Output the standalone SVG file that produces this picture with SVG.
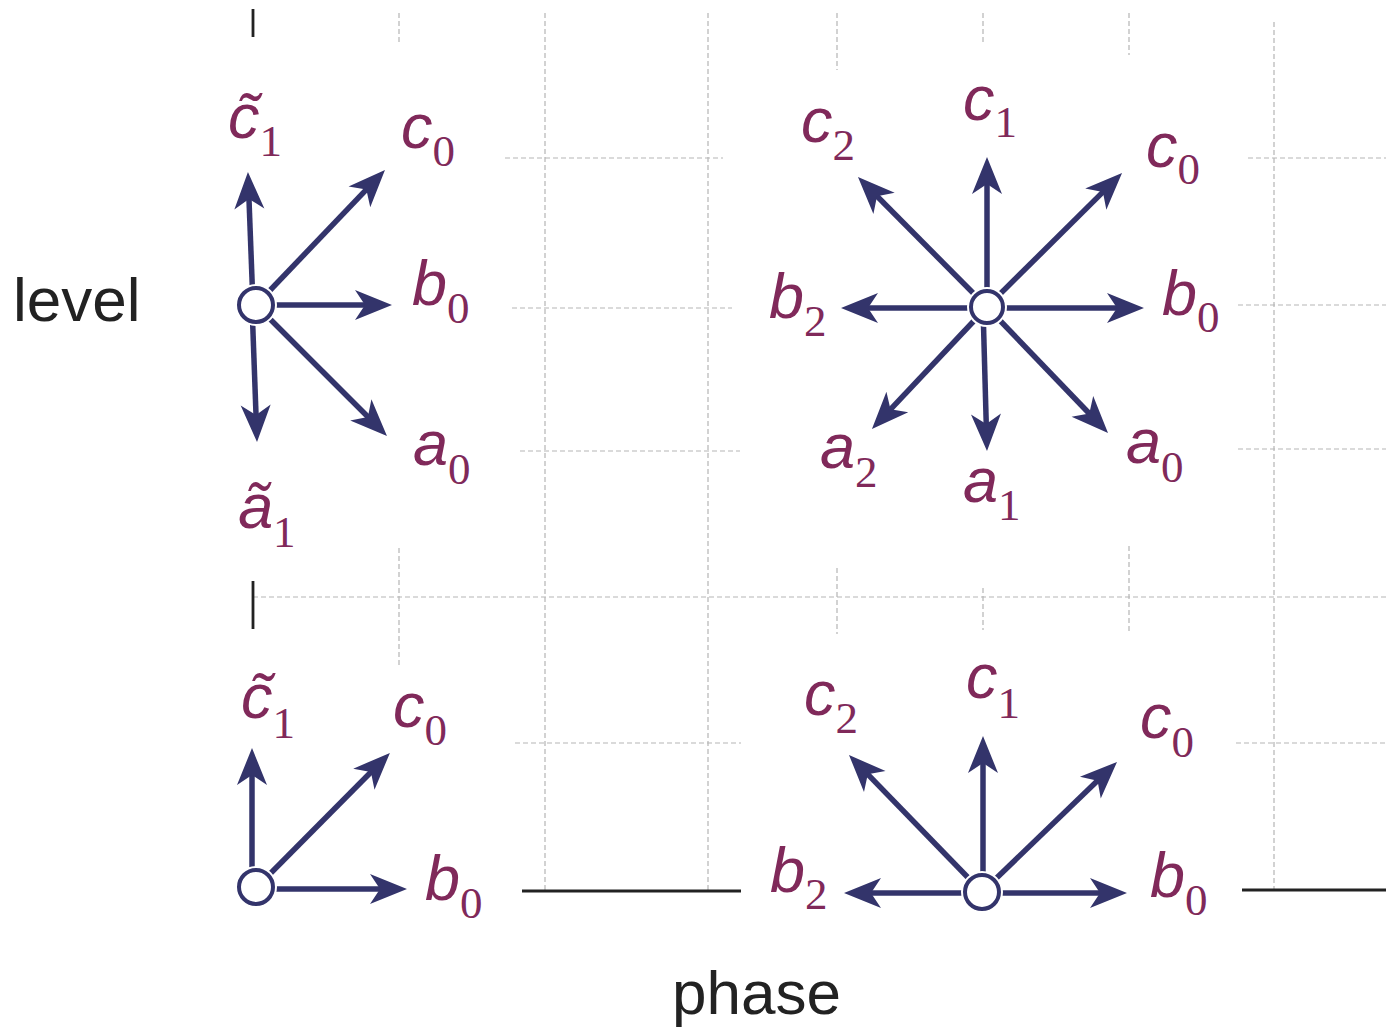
<svg xmlns="http://www.w3.org/2000/svg" width="1386" height="1030" viewBox="0 0 1386 1030">
<style>
.grid{stroke:#b5b5b5;stroke-width:1.2;stroke-dasharray:5 3;fill:none}
.axis{stroke:#222;stroke-width:2.8;fill:none}
.arr{stroke:#33346b;stroke-width:5.5;fill:none;marker-end:url(#head)}
.node{fill:#fff;stroke:#33346b;stroke-width:4}
.halo{fill:#fff;stroke:#fff;stroke-width:8}
.lbl{font-family:"Liberation Sans",Arial,sans-serif;font-style:italic;font-size:63px;fill:#80295a}
.sub{font-family:"Liberation Serif","Times New Roman",serif;font-style:normal;font-size:45px;fill:#80295a}
.ax{font-family:"Liberation Sans",Arial,sans-serif;font-size:62px;fill:#222}
</style>
<defs>
<marker id="head" markerUnits="userSpaceOnUse" viewBox="-15 -16 45 32" markerWidth="45" markerHeight="32" refX="0" refY="0" orient="auto">
<path d="M -12 -15 L 25 0 L -12 15 L -2 0 Z" fill="#33346b"/>
</marker>
</defs>
<rect width="1386" height="1030" fill="#fff"/>
<g id="grid">
<path class="grid" d="M399 13V45M399 548V668M545 13V890M708 13V890M837 13V70M837 568V634M983 13V45M983 588V630M1129 13V55M1129 546V631M1274 22V890"/>
<path class="grid" d="M505 158H723M1248 158H1386M512 308H732M1238 305H1386M520 451H740M1238 449H1386M253 597H1386M515 743H741M1236 743H1386"/>
<path class="axis" d="M253 9V37M253 581V629M522 891H741M1242 890H1386"/>
</g>
<g id="connectors">
<line class="arr" x1="253" y1="305" x2="248.9" y2="197"/>
<line class="arr" x1="256" y1="305" x2="367.7" y2="188.1"/>
<line class="arr" x1="256" y1="305" x2="367" y2="305"/>
<line class="arr" x1="256" y1="305" x2="369.3" y2="418.3"/>
<line class="arr" x1="252" y1="305" x2="256.1" y2="417"/>
<line class="arr" x1="987" y1="307" x2="987" y2="182"/>
<line class="arr" x1="987" y1="307" x2="1104.3" y2="190.6"/>
<line class="arr" x1="987" y1="308" x2="1119" y2="308"/>
<line class="arr" x1="987" y1="307" x2="1090.7" y2="415"/>
<line class="arr" x1="983" y1="307" x2="986.3" y2="426"/>
<line class="arr" x1="987" y1="307" x2="889.1" y2="410.8"/>
<line class="arr" x1="987" y1="308" x2="866" y2="308"/>
<line class="arr" x1="987" y1="307" x2="875.6" y2="194.8"/>
<line class="arr" x1="252" y1="888" x2="252" y2="773"/>
<line class="arr" x1="256" y1="888" x2="372.3" y2="770.7"/>
<line class="arr" x1="256" y1="889" x2="382" y2="889"/>
<line class="arr" x1="983" y1="892" x2="983" y2="761"/>
<line class="arr" x1="982" y1="892" x2="1099" y2="779.3"/>
<line class="arr" x1="982" y1="893" x2="1102" y2="893"/>
<line class="arr" x1="982" y1="893" x2="869" y2="893"/>
<line class="arr" x1="982" y1="892" x2="866.4" y2="772.9"/>
</g>
<g id="node-tl"><circle class="halo" cx="256" cy="305" r="17"/><circle class="node" cx="256" cy="305" r="17"/></g>
<g id="node-tr"><circle class="halo" cx="987" cy="307" r="16"/><circle class="node" cx="987" cy="307" r="16"/></g>
<g id="node-bl"><circle class="halo" cx="256" cy="887" r="17"/><circle class="node" cx="256" cy="887" r="17"/></g>
<g id="node-br"><circle class="halo" cx="982" cy="892" r="17"/><circle class="node" cx="982" cy="892" r="17"/></g>
<g id="labels-tl">
<text class="lbl" x="228" y="138">c&#x303;<tspan class="sub" dy="18">1</tspan></text>
<text class="lbl" x="401" y="148">c<tspan class="sub" dy="18">0</tspan></text>
<text class="lbl" x="412" y="305">b<tspan class="sub" dy="18">0</tspan></text>
<text class="lbl" x="413" y="465">a<tspan class="sub" dy="19">0</tspan></text>
<text class="lbl" x="238" y="528">ã<tspan class="sub" dy="19">1</tspan></text>
</g>
<g id="labels-tr">
<text class="lbl" x="963" y="120">c<tspan class="sub" dy="17">1</tspan></text>
<text class="lbl" x="801" y="142">c<tspan class="sub" dy="18">2</tspan></text>
<text class="lbl" x="1146" y="167">c<tspan class="sub" dy="17">0</tspan></text>
<text class="lbl" x="1162" y="315">b<tspan class="sub" dy="17">0</tspan></text>
<text class="lbl" x="769" y="318">b<tspan class="sub" dy="18">2</tspan></text>
<text class="lbl" x="820" y="468">a<tspan class="sub" dy="19">2</tspan></text>
<text class="lbl" x="963" y="502">a<tspan class="sub" dy="18">1</tspan></text>
<text class="lbl" x="1126" y="463">a<tspan class="sub" dy="19">0</tspan></text>
</g>
<g id="labels-bl">
<text class="lbl" x="241" y="718">c&#x303;<tspan class="sub" dy="20">1</tspan></text>
<text class="lbl" x="393" y="727">c<tspan class="sub" dy="18">0</tspan></text>
<text class="lbl" x="425" y="900">b<tspan class="sub" dy="18">0</tspan></text>
</g>
<g id="labels-br">
<text class="lbl" x="966" y="698">c<tspan class="sub" dy="20">1</tspan></text>
<text class="lbl" x="1140" y="738">c<tspan class="sub" dy="19">0</tspan></text>
<text class="lbl" x="1150" y="897">b<tspan class="sub" dy="18">0</tspan></text>
<text class="lbl" x="770" y="892">b<tspan class="sub" dy="17">2</tspan></text>
<text class="lbl" x="804" y="715">c<tspan class="sub" dy="18">2</tspan></text>
</g>
<g id="axis-labels">
<text class="ax" x="13" y="321">level</text>
<text class="ax" x="672" y="1014">phase</text>
</g>
</svg>
